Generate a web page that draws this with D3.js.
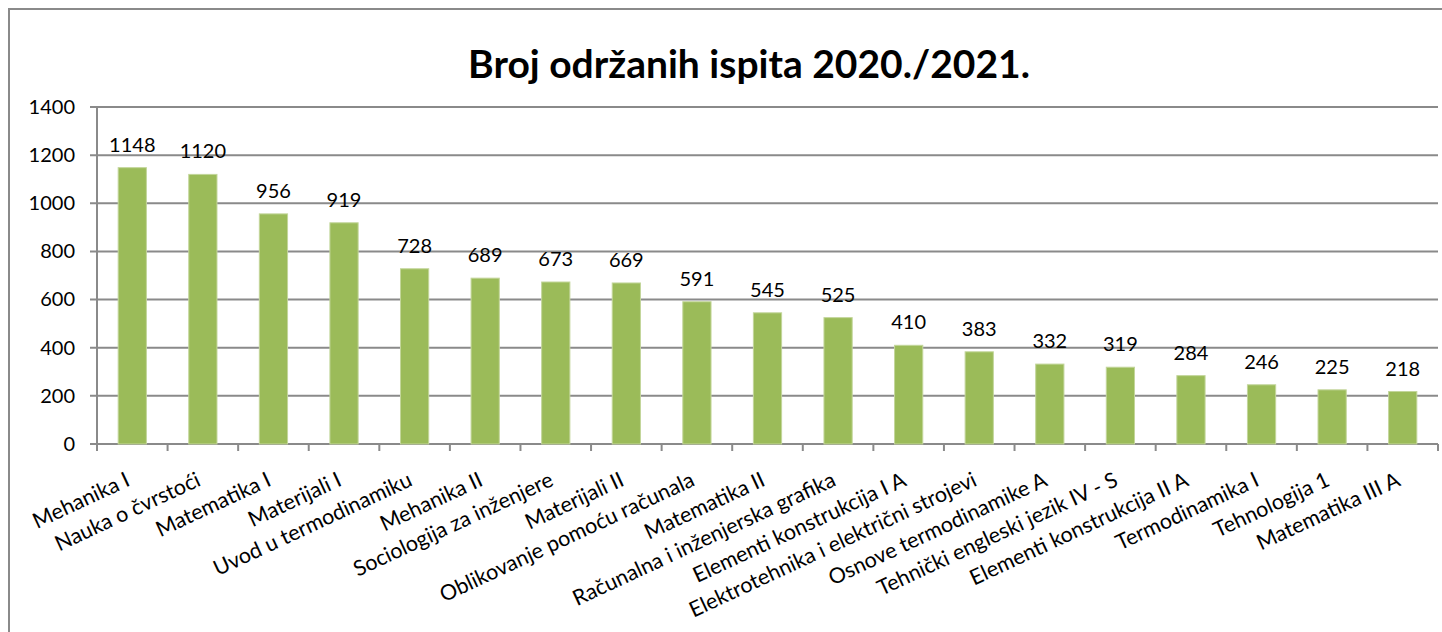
<!DOCTYPE html>
<html>
<head>
<meta charset="utf-8">
<script src="https://cdn.jsdelivr.net/npm/d3@7"></script>
<style>
  html, body { margin: 0; padding: 0; background: #fff; }
  svg { display: block; }
  text { font-family: Lato, "Open Sans", sans-serif; fill: #000; }
</style>
</head>
<body>
<svg id="chart"></svg>
<script>
const title = "Broj održanih ispita 2020./2021.";

const subjects = [
  "Mehanika I", "Nauka o čvrstoći", "Matematika I", "Materijali I",
  "Uvod u termodinamiku", "Mehanika II", "Sociologija za inženjere",
  "Materijali II", "Oblikovanje pomoću računala", "Matematika II",
  "Računalna i inženjerska grafika", "Elementi konstrukcija I A",
  "Elektrotehnika i električni strojevi", "Osnove termodinamike A",
  "Tehnički engleski jezik IV - S", "Elementi konstrukcija II A",
  "Termodinamika I", "Tehnologija 1", "Matematika III A"
];

const exams = [1148, 1120, 956, 919, 728, 689, 673, 669, 591, 545, 525, 410, 383, 332, 319, 284, 246, 225, 218];

const yTicks = [0, 200, 400, 600, 800, 1000, 1200, 1400];

const width = 1442;
const height = 632;
const margin = { top: 107, left: 97, bottom: 188, right: 4 };
const iwidth = width - margin.left - margin.right;
const iheight = height - margin.top - margin.bottom;

const svg = d3.select("#chart").attr("width", width).attr("height", height);

// outer chart border (runs off the right and bottom edges)
svg.append("rect")
  .attr("x", 9).attr("y", 9)
  .attr("width", 1460).attr("height", 660)
  .attr("fill", "none")
  .attr("stroke", "#8a8a8a")
  .attr("stroke-width", 2);

svg.append("text")
  .attr("x", 749).attr("y", 78)
  .attr("text-anchor", "middle")
  .attr("font-size", 39)
  .attr("font-weight", "bold")
  .text(title);

const g = svg.append("g").attr("transform", `translate(${margin.left},${margin.top})`);

const y = d3.scaleLinear().domain([0, 1400]).range([iheight, 0]);

const x = d3.scaleBand()
  .domain(subjects)
  .range([0, iwidth])
  .paddingInner(0.6)
  .paddingOuter(0.3);

const step = x.step();

// gridlines
g.append("g")
  .selectAll("line")
  .data(yTicks)
  .enter().append("line")
  .attr("x1", -7).attr("x2", iwidth)
  .attr("y1", d => y(d)).attr("y2", d => y(d))
  .attr("stroke", "#8a8a8a")
  .attr("stroke-width", 2);

// y axis
const yAxis = g.append("g")
  .call(d3.axisLeft(y).tickValues(yTicks).tickFormat(d3.format("d")).tickSize(0).tickPadding(22));
yAxis.select(".domain").remove();
yAxis.selectAll("text")
  .attr("font-size", 20)
  .style("font-family", "Lato, 'Open Sans', sans-serif")
  .attr("fill", "#000");

g.append("line")
  .attr("x1", 0).attr("x2", 0)
  .attr("y1", 0).attr("y2", iheight)
  .attr("stroke", "#8a8a8a")
  .attr("stroke-width", 2);

// bars
g.selectAll("rect.bar")
  .data(exams)
  .enter().append("rect")
  .attr("class", "bar")
  .attr("x", (d, i) => x(subjects[i]))
  .attr("y", d => y(d))
  .attr("width", x.bandwidth())
  .attr("height", d => iheight - y(d))
  .attr("fill", "#9bbb59")
  .attr("stroke", "#c3d69b")
  .attr("stroke-width", 1);

// value labels
g.selectAll("text.val")
  .data(exams)
  .enter().append("text")
  .attr("class", "val")
  .attr("x", (d, i) => x(subjects[i]) + x.bandwidth() / 2)
  .attr("y", d => y(d) - 16)
  .attr("text-anchor", "middle")
  .attr("font-size", 20)
  .text(d => d);

// x axis with ticks between categories
const xAxis = g.append("g").attr("transform", `translate(0,${iheight})`);
xAxis.selectAll("line")
  .data(d3.range(subjects.length + 1))
  .enter().append("line")
  .attr("x1", i => i * step).attr("x2", i => i * step)
  .attr("y1", 0).attr("y2", 7)
  .attr("stroke", "#8a8a8a")
  .attr("stroke-width", 2);

xAxis.selectAll("text")
  .data(subjects)
  .enter().append("text")
  .attr("text-anchor", "end")
  .attr("font-size", 21.5)
  .attr("transform", d => `translate(${x(d) + x.bandwidth() / 2 - 1},${41}) rotate(-25)`)
  .text(d => d);
</script>
</body>
</html>
